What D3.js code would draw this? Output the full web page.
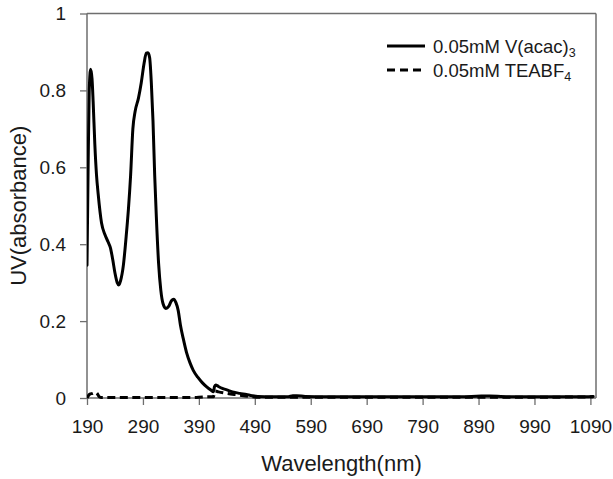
<!DOCTYPE html>
<html>
<head>
<meta charset="utf-8">
<script src="https://cdn.jsdelivr.net/npm/d3@7/dist/d3.min.js"></script>
<style>
  body { margin: 0; background: #fff; }
  svg { display: block; }
  text { font-family: "Liberation Sans", Arial, sans-serif; fill: #1a1a1a; }
</style>
</head>
<body>
<svg id="chart" width="613" height="479"></svg>
<script>
// ---- data ----
const xTicks = [190, 290, 390, 490, 590, 690, 790, 890, 990, 1090];
const yTicks = [0, 0.2, 0.4, 0.6, 0.8, 1];
const yTickLabels = ["0", "0.2", "0.4", "0.6", "0.8", "1"];

const vacacWavelength = [190,192,194,196.5,199,201,204,207,210,216,222,228,232,236,240,244,247,250,255,260,264,268,272,276,282,287,292,296,299,302,305,308,311,314,318,322,326,331,336,341,345,349,353,357,362,368,374,380,388,396,404,412,416,418,420,425,432,440,450,463,475,485,495,520,550,558,565,580,620,680,740,800,860,895,910,950,1000,1050,1080,1095];
const vacacAbs = [0.345,0.60,0.80,0.855,0.83,0.77,0.66,0.58,0.53,0.455,0.425,0.405,0.39,0.36,0.325,0.30,0.294,0.305,0.345,0.42,0.49,0.58,0.70,0.745,0.78,0.82,0.87,0.897,0.898,0.885,0.82,0.72,0.58,0.47,0.35,0.28,0.245,0.233,0.238,0.253,0.257,0.248,0.228,0.19,0.155,0.118,0.092,0.072,0.054,0.040,0.029,0.020,0.016,0.030,0.034,0.030,0.025,0.021,0.016,0.012,0.009,0.006,0.004,0.003,0.003,0.006,0.006,0.004,0.003,0.003,0.003,0.003,0.003,0.005,0.005,0.003,0.003,0.003,0.003,0.004];

const teaWavelength = [190,195,200,205,208,212,216,300,380,400,416,419,425,440,460,480,495,600,800,1000,1095];
const teaAbs = [0.0,0.010,0.012,0.015,0.012,0.003,0.001,0.001,0.001,0.003,0.003,0.018,0.016,0.012,0.008,0.004,0.002,0.002,0.002,0.002,0.003];

const seriesNames = ["0.05mM V(acac)", "0.05mM TEABF"];
const seriesSubs = ["3", "4"];

// ---- layout ----
const svg = d3.select("#chart");
const L = 87, R = 596, T = 13.5, B = 398;
const x = d3.scaleLinear().domain([190, 1100]).range([L, R]);
const y = d3.scaleLinear().domain([0, 1]).range([B, T]);
const axisColor = "#6e6e6e";

svg.append("defs").append("clipPath").attr("id", "clip")
  .append("rect").attr("x", L).attr("y", T - 2).attr("width", R - L).attr("height", B - T + 4);

// frame top / right
svg.append("line").attr("x1", L).attr("x2", R).attr("y1", T).attr("y2", T)
  .attr("stroke", axisColor).attr("stroke-width", 1.5);
svg.append("line").attr("x1", R).attr("x2", R).attr("y1", T).attr("y2", B)
  .attr("stroke", axisColor).attr("stroke-width", 1.5);

// axes
const xAxis = svg.append("g").attr("transform", `translate(0,${B})`)
  .call(d3.axisBottom(x).tickValues(xTicks).tickSize(7).tickPadding(15).tickFormat(d3.format("d")));
const yAxis = svg.append("g").attr("transform", `translate(${L},0)`)
  .call(d3.axisLeft(y).tickValues(yTicks).tickSize(7).tickPadding(14).tickFormat((d, i) => yTickLabels[i]));
[xAxis, yAxis].forEach(g => {
  g.select(".domain").attr("stroke", axisColor).attr("stroke-width", 1.5);
  g.selectAll(".tick line").attr("stroke", axisColor).attr("stroke-width", 1.3);
  g.selectAll(".tick text").attr("font-size", "19px")
    .attr("font-family", "Liberation Sans, Arial, sans-serif").attr("fill", "#1a1a1a");
});
xAxis.select(".domain").attr("d", `M${L},0H${R}`);
yAxis.select(".domain").attr("d", `M0,${T}V${B}`);

// lines
const line = d3.line().x(d => x(d[0])).y(d => y(d[1])).curve(d3.curveMonotoneX);
const plot = svg.append("g").attr("clip-path", "url(#clip)");
plot.append("path")
  .datum(teaWavelength.map((w, i) => [w, teaAbs[i]]))
  .attr("d", line).attr("fill", "none").attr("stroke", "#000")
  .attr("stroke-width", 3).attr("stroke-dasharray", "8,4.5");
plot.append("path")
  .datum(vacacWavelength.map((w, i) => [w, vacacAbs[i]]))
  .attr("d", line).attr("fill", "none").attr("stroke", "#000")
  .attr("stroke-width", 3).attr("stroke-linejoin", "round").attr("stroke-linecap", "round");

// axis titles
svg.append("text").attr("x", (L + R) / 2).attr("y", 471).attr("text-anchor", "middle")
  .attr("font-size", "22px").text("Wavelength(nm)");
svg.append("text").attr("transform", `translate(26,${(T + B) / 2}) rotate(-90)`)
  .attr("text-anchor", "middle").attr("font-size", "22px").text("UV(absorbance)");

// legend
const legendRows = [46, 70];
seriesNames.forEach((name, i) => {
  const ly = legendRows[i];
  svg.append("line").attr("x1", 387).attr("x2", 425).attr("y1", ly).attr("y2", ly)
    .attr("stroke", "#000").attr("stroke-width", 3)
    .attr("stroke-dasharray", i === 1 ? "8,5" : null);
  const t = svg.append("text").attr("x", 433).attr("y", ly + 6.5).attr("font-size", "18.5px");
  t.append("tspan").text(name);
  t.append("tspan").attr("font-size", "12.5px").attr("dy", 4).text(seriesSubs[i]);
});
</script>
</body>
</html>
